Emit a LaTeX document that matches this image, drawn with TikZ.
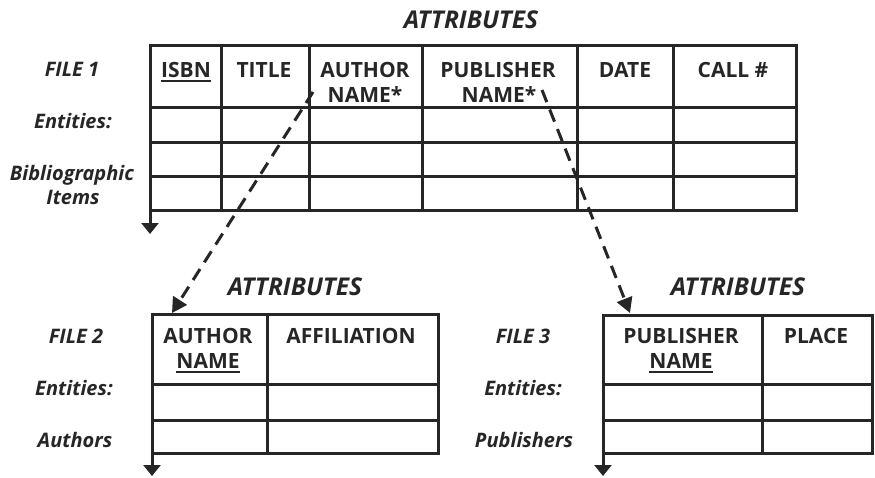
\documentclass[tikz,border=0pt]{standalone}
\usepackage{fontspec}
\setsansfont{Open Sans}
\renewcommand{\familydefault}{\sfdefault}
\usetikzlibrary{arrows.meta}
% key field: text with a solid rule set a little below the baseline
\newsavebox{\keybox}
\newcommand{\keyfield}[1]{\sbox{\keybox}{#1}\leavevmode\rlap{\usebox{\keybox}}\raisebox{-4.5pt}{\rule{\wd\keybox}{1.8pt}}}
\begin{document}
\begin{tikzpicture}[x=1pt,y=-1pt,
  grid/.style={line width=3pt, draw=black!85},
  hdr/.style={anchor=base, inner sep=0pt, font=\fontsize{21}{25}\selectfont\bfseries, text=black!85},
  lbl/.style={anchor=base, inner sep=0pt, font=\fontsize{20}{24}\selectfont\bfseries\itshape, text=black!85},
  ttl/.style={anchor=base, inner sep=0pt, font=\fontsize{24.5}{28}\selectfont\bfseries\itshape, text=black!85},
  down/.style={grid, -{Triangle[width=17pt,length=11pt]}},
  link/.style={line width=3pt, draw=black!85, dash pattern=on 13pt off 8pt,
    -{Triangle[width=16pt,length=15pt]}}]
\useasboundingbox (0,0) rectangle (875,477);

% ---------------- File 1: bibliographic items ----------------
\node[ttl] (t1) at (471,28) {ATTRIBUTES};
\draw[grid] (150,45) rectangle (796,210);
\foreach \x in {221,309,422,577,673} \draw[grid] (\x,45) -- (\x,210);
\foreach \y in {107,142,176} \draw[grid] (150,\y) -- (796,\y);
\coordinate (f1sw) at (150,210);
\coordinate (f1end) at (150,234);
\draw[down] (f1sw) -- (f1end);

\node[hdr] (f1isbn) at (186,77) {\keyfield{ISBN}};
\node[hdr] (f1title) at (264,77) {TITLE};
\node[hdr] (f1autha) at (365,77) {AUTHOR};
\node[hdr] (f1authb) at (365,102) {NAME*};
\node[hdr] (f1puba) at (498,77) {PUBLISHER};
\node[hdr] (f1pubb) at (499,102) {NAME*};
\node[hdr] (f1date) at (625,77) {DATE};
\node[hdr] (f1call) at (733,77) {CALL \#};

\node[lbl] (f1name) at (72,76) {FILE 1};
\node[lbl] (f1ent) at (73,128) {Entities:};
\node[lbl] (f1kinda) at (72,180) {Bibliographic};
\node[lbl] (f1kindb) at (73,204) {Items};

% ---------------- File 2: authors ----------------
\node[ttl] (t2) at (295,295) {ATTRIBUTES};
\draw[grid] (152,314) rectangle (438,453);
\draw[grid] (267,314) -- (267,453);
\foreach \y in {384,420} \draw[grid] (152,\y) -- (438,\y);
\coordinate (f2sw) at (152,453);
\coordinate (f2end) at (152,476);
\draw[down] (f2sw) -- (f2end);

\node[hdr] (f2autha) at (208,343) {AUTHOR};
\node[hdr] (f2authb) at (208,368) {\keyfield{NAME}};
\node[hdr] (f2aff) at (351,343) {AFFILIATION};

\node[lbl] (f2name) at (76,343) {FILE 2};
\node[lbl] (f2ent) at (74,395) {Entities:};
\node[lbl] (f2kind) at (75,447) {Authors};

% ---------------- File 3: publishers ----------------
\node[ttl] (t3) at (738,295) {ATTRIBUTES};
\draw[grid] (603,315) rectangle (872,453);
\draw[grid] (762,315) -- (762,453);
\foreach \y in {384,420} \draw[grid] (603,\y) -- (872,\y);
\coordinate (f3sw) at (603,453);
\coordinate (f3end) at (603,476);
\draw[down] (f3sw) -- (f3end);

\node[hdr] (f3puba) at (681,343) {PUBLISHER};
\node[hdr] (f3pubb) at (681,368) {\keyfield{NAME}};
\node[hdr] (f3place) at (816,343) {PLACE};

\node[lbl] (f3name) at (523,343) {FILE 3};
\node[lbl] (f3ent) at (523,395) {Entities:};
\node[lbl] (f3kind) at (524,447) {Publishers};

% ---------------- foreign-key links ----------------
\coordinate (authsrc) at (313,92);
\coordinate (authdst) at (172,313);
\coordinate (pubsrc) at (542,90);
\coordinate (pubdst) at (630,313);
\draw[link] (authsrc) -- (authdst);
\draw[link] (pubsrc) -- (pubdst);
\end{tikzpicture}
\end{document}
